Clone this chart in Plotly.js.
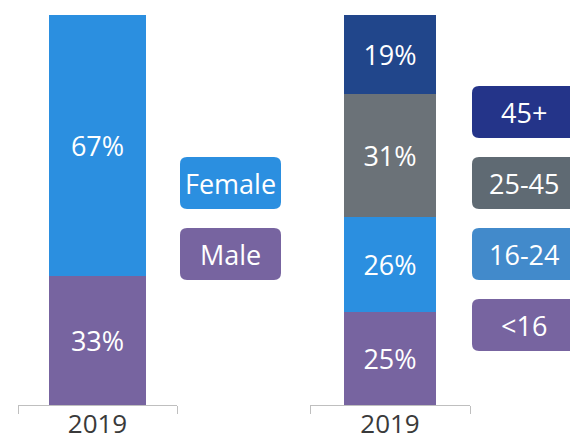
<!DOCTYPE html>
<html>
<head>
<meta charset="utf-8">
<script src="https://cdn.plot.ly/plotly-3.0.1.min.js"></script>
<style>html,body{margin:0;padding:0;background:#fff;}#chart{width:570px;height:444px;}</style>
</head>
<body>
<div id="chart"></div>
<script>
// ---- data ----
const years = ["2019"];
const genderCategories = ["Male", "Female"];
const genderValues = [33, 67];
const genderLabels = ["33%", "67%"];
const ageCategories = ["<16", "16-24", "25-45", "45+"];
const ageValues = [23.9, 24.4, 31.4, 20.3];
const ageLabels = ["25%", "26%", "31%", "19%"];

// ---- styles ----
const genderColors = ["#7764a0", "#2b8fe0"];
const ageColors = ["#7764a0", "#2b8fe0", "#6b7278", "#21468b"];
const genderLegendColors = ["#7764a0", "#2b8fe0"];
const ageLegendColors = ["#7764a0", "#428acb", "#5f6a73", "#243489"];
const FONT = "Open Sans, Noto Sans, sans-serif";
const FS = 27;

const W = 570, H = 444, MT = 15, MB = 39;
const PH = H - MT - MB;
const px = x => x / W;
const py = y => (H - MB - y) / PH;

function roundRect(x0, y0, x1, y1, r) {
  const X = v => px(v).toFixed(5), Y = v => py(v).toFixed(5);
  return `M${X(x0 + r)},${Y(y0)} L${X(x1 - r)},${Y(y0)} Q${X(x1)},${Y(y0)} ${X(x1)},${Y(y0 + r)} ` +
    `L${X(x1)},${Y(y1 - r)} Q${X(x1)},${Y(y1)} ${X(x1 - r)},${Y(y1)} ` +
    `L${X(x0 + r)},${Y(y1)} Q${X(x0)},${Y(y1)} ${X(x0)},${Y(y1 - r)} ` +
    `L${X(x0)},${Y(y0 + r)} Q${X(x0)},${Y(y0)} ${X(x0 + r)},${Y(y0)} Z`;
}

const traces = [];
genderCategories.forEach((c, i) => {
  traces.push({
    type: "bar", name: c, x: years, y: [genderValues[i]], text: [genderLabels[i]],
    xaxis: "x", yaxis: "y", width: 0.61,
    marker: { color: genderColors[i], line: { width: 0 } },
    textposition: "inside", insidetextanchor: "middle", constraintext: "none",
    textfont: { color: "#ffffff", size: FS, family: FONT },
    hoverinfo: "skip", showlegend: false
  });
});
ageCategories.forEach((c, i) => {
  traces.push({
    type: "bar", name: c, x: years, y: [ageValues[i]], text: [ageLabels[i]],
    xaxis: "x2", yaxis: "y", width: 0.575,
    marker: { color: ageColors[i], line: { width: 0 } },
    textposition: "inside", insidetextanchor: "middle", constraintext: "none",
    textfont: { color: "#ffffff", size: FS, family: FONT },
    hoverinfo: "skip", showlegend: false
  });
});

// legend boxes (layout decoration)
const genderBoxes = [[180, 228, 281, 280], [180, 157, 281, 209]];
const ageBoxes = [[472, 299, 576, 351], [472, 228, 576, 280], [472, 157, 576, 209], [472, 86, 576, 138]];
const shapes = [], annotations = [];
function addBox(b, color, label) {
  shapes.push({ type: "path", xref: "paper", yref: "paper", path: roundRect(b[0], b[1], b[2], b[3], 7),
    fillcolor: color, line: { width: 0 }, layer: "above" });
  annotations.push({ xref: "paper", yref: "paper", x: px((b[0] + b[2]) / 2), y: py((b[1] + b[3]) / 2),
    text: label, showarrow: false, xanchor: "center", yanchor: "middle",
    font: { color: "#ffffff", size: FS, family: FONT } });
}
genderCategories.forEach((c, i) => addBox(genderBoxes[i], genderLegendColors[i], c));
ageCategories.forEach((c, i) => addBox(ageBoxes[i], ageLegendColors[i], c));

const axisCommon = {
  type: "category", range: [-0.5, 0.5], showline: true, linecolor: "#bfbfbf", linewidth: 1,
  ticks: "outside", tickson: "boundaries", ticklen: 8, tickcolor: "#bfbfbf", tickwidth: 1,
  ticklabelstandoff: -4,
  showgrid: false, zeroline: false, fixedrange: true,
  tickfont: { size: 26, color: "#3a3a3a", family: FONT }
};

const layout = {
  width: W, height: H, margin: { l: 0, r: 0, t: MT, b: MB, pad: 0 },
  paper_bgcolor: "#ffffff", plot_bgcolor: "#ffffff",
  barmode: "stack", showlegend: false,
  xaxis: Object.assign({}, axisCommon, { domain: [px(18), px(177)], anchor: "y" }),
  xaxis2: Object.assign({}, axisCommon, { domain: [px(310), px(470)], anchor: "y" }),
  yaxis: { range: [0, 100], visible: false, fixedrange: true },
  shapes: shapes, annotations: annotations
};

Plotly.newPlot("chart", traces, layout, { displayModeBar: false, staticPlot: true });
</script>
</body>
</html>
